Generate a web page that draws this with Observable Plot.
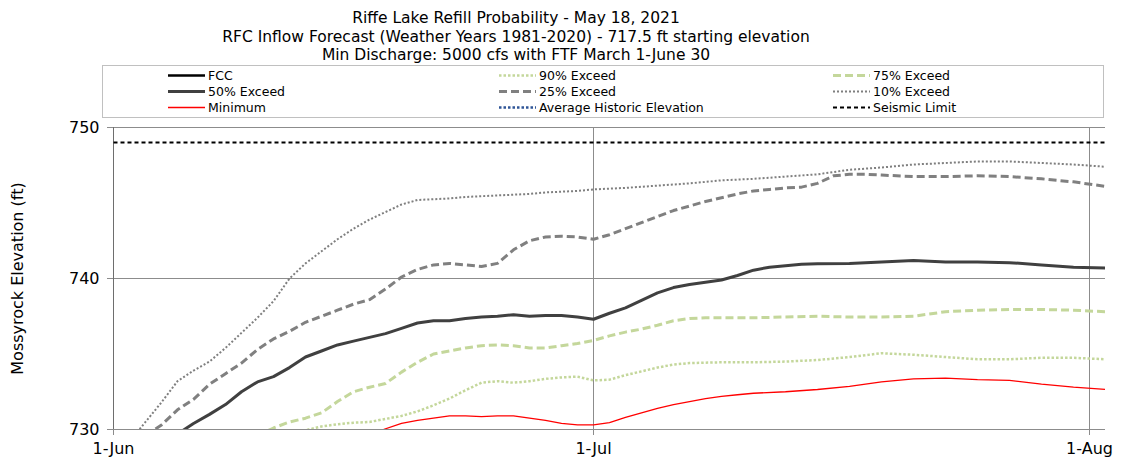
<!DOCTYPE html>
<html>
<head>
<meta charset="utf-8">
<script src="https://cdn.jsdelivr.net/npm/d3@7"></script>
<script src="https://cdn.jsdelivr.net/npm/@observablehq/plot@0.6"></script>
<style>
  html, body { margin: 0; padding: 0; background: #fff; }
  body { width: 1122px; height: 459px; overflow: hidden; font-family: "DejaVu Sans", Verdana, sans-serif; }
  #title { width: 1032px; height: 55.5px; text-align: center; font-size: 15.5px; line-height: 18.5px; padding-top: 9px; color: #000; white-space: nowrap; }
  #legend svg { display: block; }
  #chart svg { display: block; }
</style>
</head>
<body>
<div id="title"></div>
<div id="legend"></div>
<div id="chart"></div>
<script>
// ---- Text ----
const titleLines = [
  "Riffe Lake Refill Probability - May 18, 2021",
  "RFC Inflow Forecast (Weather Years 1981-2020) - 717.5 ft starting elevation",
  "Min Discharge: 5000 cfs with FTF March 1-June 30"
];
const yLabel = "Mossyrock Elevation (ft)";

// ---- Axes ----
const yTicks = [730, 740, 750];
const xTickDays = [0, 30, 61];
const xTickLabels = ["1-Jun", "1-Jul", "1-Aug"];

// ---- Series (days since 1-Jun-2021, elevation ft) ----
const p10Days = [1,2,3,4,5,6,7,8,9,10,11,12,13,14,15,16,17,18,19,20,21,22,23,24,25,26,27,28,29,30,32,34,36,38,40,42,44,46,48,50,52,54,56,58,60,62];
const p10Values = [729.2,730.5,731.8,733.2,733.9,734.5,735.4,736.4,737.4,738.5,740.0,741.0,741.8,742.6,743.3,743.9,744.4,744.9,745.2,745.25,745.3,745.4,745.45,745.5,745.55,745.6,745.7,745.75,745.8,745.9,746.0,746.15,746.3,746.5,746.6,746.75,746.9,747.2,747.35,747.55,747.65,747.75,747.75,747.65,747.55,747.4];

const p25Days = [2,3,4,5,6,7,8,9,10,11,12,13,14,15,16,17,18,19,20,21,22,23,24,25,26,27,28,29,30,31,32,33,34,35,36,37,38,39,40,41,42,43,44,45,46,47,48,50,52,54,56,58,60,62];
const p25Values = [729.6,730.3,731.3,732.0,733.0,733.7,734.4,735.3,736.0,736.5,737.1,737.5,737.9,738.3,738.6,739.3,740.1,740.6,740.9,741.0,740.9,740.8,741.0,741.9,742.5,742.75,742.8,742.75,742.6,742.9,743.3,743.7,744.1,744.5,744.8,745.1,745.35,745.6,745.8,745.9,746.0,746.05,746.3,746.8,746.9,746.9,746.85,746.75,746.75,746.8,746.75,746.6,746.4,746.1];

const p50Days = [4,5,6,7,8,9,10,11,12,13,14,15,16,17,18,19,20,21,22,23,24,25,26,27,28,29,30,31,32,33,34,35,36,37,38,39,40,41,42,43,44,46,48,50,52,54,56,58,60,62];
const p50Values = [729.7,730.4,731.0,731.65,732.5,733.15,733.5,734.1,734.8,735.2,735.6,735.85,736.1,736.35,736.7,737.05,737.2,737.2,737.35,737.45,737.5,737.6,737.5,737.55,737.55,737.45,737.3,737.7,738.05,738.55,739.05,739.4,739.6,739.75,739.9,740.2,740.55,740.75,740.85,740.95,740.98,741.0,741.1,741.2,741.1,741.1,741.05,740.9,740.75,740.7];

const p75Days = [9,10,11,12,13,14,15,16,17,18,19,20,21,22,23,24,25,26,27,28,29,30,31,32,33,34,35,36,37,38,40,42,44,46,48,50,52,54,56,58,60,62];
const p75Values = [729.6,730.1,730.5,730.75,731.1,731.85,732.5,732.8,733.05,733.8,734.45,735.0,735.2,735.4,735.55,735.6,735.55,735.4,735.4,735.55,735.7,735.9,736.2,736.45,736.65,736.9,737.2,737.35,737.4,737.4,737.4,737.45,737.5,737.45,737.45,737.5,737.8,737.9,737.95,737.95,737.9,737.8];

const p90Days = [11,12,13,14,15,16,17,18,19,20,21,22,23,24,25,26,27,28,29,30,31,32,33,34,35,36,38,40,42,44,46,48,50,52,54,56,58,60,62];
const p90Values = [729.7,729.95,730.2,730.35,730.45,730.5,730.7,730.9,731.2,731.6,732.05,732.6,733.1,733.2,733.1,733.2,733.35,733.45,733.5,733.25,733.3,733.6,733.85,734.1,734.3,734.4,734.45,734.45,734.5,734.6,734.8,735.05,734.95,734.8,734.65,734.65,734.75,734.75,734.65];

const minDays = [16,17,18,19,20,21,22,23,24,25,26,27,28,29,30,31,32,33,34,35,36,37,38,39,40,42,44,46,48,50,52,54,56,58,60,62];
const minValues = [729.6,730.05,730.4,730.6,730.75,730.9,730.9,730.85,730.9,730.9,730.75,730.6,730.4,730.3,730.3,730.45,730.8,731.1,731.4,731.65,731.85,732.05,732.2,732.3,732.4,732.5,732.65,732.85,733.15,733.35,733.4,733.3,733.25,733.0,732.8,732.65];

const seismicDays = [0, 62];
const seismicValues = [749, 749];

// FCC and Average Historic Elevation are listed in the legend but not visible in the plotted range
const fccDays = [];
const fccValues = [];
const avgDays = [];
const avgValues = [];

const legendNames = [
  "FCC", "90% Exceed", "75% Exceed",
  "50% Exceed", "25% Exceed", "10% Exceed",
  "Minimum", "Average Historic Elevation", "Seismic Limit"
];

// ---- Styles ----
const styles = {
  "FCC": {stroke: "#000000", width: 2.5, dash: null},
  "50% Exceed": {stroke: "#404040", width: 3, dash: null},
  "Minimum": {stroke: "#ff0000", width: 1.3, dash: null},
  "90% Exceed": {stroke: "#c4d79b", width: 2.5, dash: "2.5 2"},
  "25% Exceed": {stroke: "#808080", width: 3, dash: "8 4"},
  "Average Historic Elevation": {stroke: "#2f5597", width: 2.5, dash: "2.5 2"},
  "75% Exceed": {stroke: "#c4d79b", width: 3, dash: "8 4"},
  "10% Exceed": {stroke: "#7f7f7f", width: 2, dash: "2 2"},
  "Seismic Limit": {stroke: "#000000", width: 2, dash: "4 3"}
};

const base = Date.UTC(2021, 5, 1);
const toDate = d => new Date(base + d * 864e5);

function rows(name, days, values) {
  return days.map((d, i) => ({name, date: toDate(d), value: values[i]}));
}

const seriesData = [
  ["FCC", fccDays, fccValues],
  ["Average Historic Elevation", avgDays, avgValues],
  ["Minimum", minDays, minValues],
  ["90% Exceed", p90Days, p90Values],
  ["75% Exceed", p75Days, p75Values],
  ["50% Exceed", p50Days, p50Values],
  ["25% Exceed", p25Days, p25Values],
  ["10% Exceed", p10Days, p10Values],
  ["Seismic Limit", seismicDays, seismicValues]
];

// ---- Title ----
document.getElementById("title").innerHTML = titleLines.map(t => `<div>${t}</div>`).join("");

// ---- Legend ----
(function () {
  const W = 1122, H = 54;
  const svg = d3.select("#legend").append("svg").attr("width", W).attr("height", H);
  svg.append("rect").attr("x", 102.5).attr("y", 0.5).attr("width", 1001).attr("height", 52)
    .attr("fill", "none").attr("stroke", "#c0c0c0");
  const colX = [168, 499, 833];
  const rowY = [10.5, 26.5, 42.5];
  legendNames.forEach((name, i) => {
    const c = i % 3, r = Math.floor(i / 3);
    const s = styles[name];
    svg.append("line").attr("x1", colX[c]).attr("x2", colX[c] + 37)
      .attr("y1", rowY[r]).attr("y2", rowY[r])
      .attr("stroke", s.stroke).attr("stroke-width", s.width)
      .attr("stroke-dasharray", s.dash);
    svg.append("text").attr("x", colX[c] + 40).attr("y", rowY[r]).attr("dy", "0.35em")
      .attr("font-family", "DejaVu Sans, Verdana, sans-serif").attr("font-size", 12.5)
      .text(name);
  });
})();

// ---- Chart ----
const marks = [
  Plot.ruleY(yTicks, {stroke: "#8c8c8c", strokeWidth: 1}),
  Plot.ruleX(xTickDays.slice(1).map(toDate), {stroke: "#8c8c8c", strokeWidth: 1}),
  Plot.ruleX([toDate(0)], {stroke: "#6e6e6e", strokeWidth: 1}),
  Plot.axisY({
    ticks: yTicks, tickSize: 6, tickPadding: 8, stroke: "#8c8c8c", fill: "#000",
    label: yLabel, labelAnchor: "center", labelArrow: "none", labelOffset: 102,
    fontSize: 16
  }),
  Plot.axisX({
    ticks: xTickDays.map(toDate), tickSize: 6, tickPadding: 7, stroke: "#8c8c8c", fill: "#000",
    tickFormat: d => xTickLabels[xTickDays.indexOf(Math.round((d - base) / 864e5))],
    label: null, fontSize: 16
  })
];

for (const [name, days, values] of seriesData) {
  const s = styles[name];
  const data = rows(name, days, values);
  if (!data.length) continue;
  marks.push(Plot.line(data, {
    x: "date", y: "value", stroke: s.stroke, strokeWidth: s.width,
    strokeDasharray: s.dash || undefined, strokeLinecap: "butt", strokeLinejoin: "round",
    clip: true
  }));
}

const chart = Plot.plot({
  width: 1122,
  height: 341,
  marginTop: 8,
  marginBottom: 31,
  marginLeft: 113,
  marginRight: 17,
  style: {fontFamily: "DejaVu Sans, Verdana, sans-serif", fontSize: "16px", color: "#000", background: "#fff"},
  x: {type: "utc", domain: [toDate(0), toDate(62)]},
  y: {domain: [730, 750]},
  marks
});
document.getElementById("chart").appendChild(chart);
</script>
</body>
</html>
